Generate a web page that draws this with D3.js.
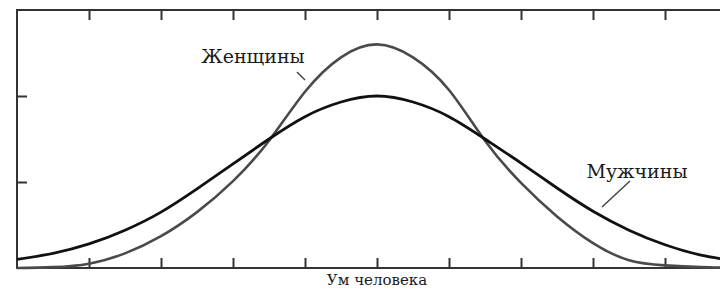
<!DOCTYPE html>
<html>
<head>
<meta charset="utf-8">
<title>Ум человека</title>
<script src="https://d3js.org/d3.v7.min.js"></script>
<style>
    body { margin: 0; background: #fff; }
    .frame { fill: none; stroke: #333; stroke-width: 2; }
    .tick line { stroke: #333; stroke-width: 2; }
    .label { font-family: "DejaVu Serif", "Liberation Serif", serif; fill: #1a1a1a; }
</style>
</head>
<body>
<div id="chart"></div>
<script>
    // x positions along the "intelligence" axis (arbitrary units)
    const xs = [0, 0.5, 1, 1.5, 2, 2.5, 3, 3.5, 4, 4.5, 5, 5.5, 6, 6.5, 7, 7.5, 8, 8.5, 9, 9.5, 10];
    const men   = [0.10, 0.17, 0.28, 0.44, 0.65, 0.92, 1.21, 1.50, 1.76, 1.93, 2.00, 1.93, 1.76, 1.50, 1.22, 0.93, 0.66, 0.44, 0.27, 0.15, 0.08];
    const women = [0.00, 0.01, 0.05, 0.17, 0.37, 0.65, 1.01, 1.48, 2.05, 2.45, 2.60, 2.45, 2.07, 1.48, 0.99, 0.60, 0.29, 0.09, 0.03, 0.01, 0.00];
    const xTicks = [1, 2, 3, 4, 5, 6, 7, 8, 9];
    const yTicks = [1, 2];
    const xTitle = "Ум человека";
    const labelWomen = "Женщины";
    const labelMen = "Мужчины";

    const W = 720, H = 290;
    const margin = { top: 10, right: -17, bottom: 22, left: 17 };

    const x = d3.scaleLinear().domain([0, 10]).range([margin.left, W - margin.right]);
    const y = d3.scaleLinear().domain([0, 3]).range([H - margin.bottom, margin.top]);

    const svg = d3.select("#chart").append("svg")
        .attr("width", W)
        .attr("height", H);

    // frame
    svg.append("rect")
        .attr("class", "frame")
        .attr("x", x(0))
        .attr("y", y(3))
        .attr("width", x(10) - x(0))
        .attr("height", y(0) - y(3));

    // inner ticks on all sides
    const tickLen = 10;
    svg.append("g")
        .attr("transform", "translate(0," + y(0) + ")")
        .call(d3.axisTop(x).tickValues(xTicks).tickSize(tickLen).tickFormat(""))
        .call(g => g.select(".domain").remove());
    svg.append("g")
        .attr("transform", "translate(0," + y(3) + ")")
        .call(d3.axisBottom(x).tickValues(xTicks).tickSize(tickLen).tickFormat(""))
        .call(g => g.select(".domain").remove());
    svg.append("g")
        .attr("transform", "translate(" + x(0) + ",0)")
        .call(d3.axisRight(y).tickValues(yTicks).tickSize(tickLen).tickFormat(""))
        .call(g => g.select(".domain").remove());

    const line = d3.line()
        .x((d, i) => x(xs[i]))
        .y(d => y(d))
        .curve(d3.curveNatural);

    svg.append("path")
        .datum(women)
        .attr("fill", "none")
        .attr("stroke", "#4a4a4a")
        .attr("stroke-width", 2.6)
        .attr("d", line);

    svg.append("path")
        .datum(men)
        .attr("fill", "none")
        .attr("stroke", "#111")
        .attr("stroke-width", 2.8)
        .attr("d", line);

    // labels with leader lines
    svg.append("text")
        .attr("class", "label")
        .attr("x", 253)
        .attr("y", 63)
        .attr("text-anchor", "middle")
        .attr("font-size", 19)
        .text(labelWomen);
    svg.append("line")
        .attr("x1", 297).attr("y1", 72)
        .attr("x2", 305).attr("y2", 80)
        .attr("stroke", "#444").attr("stroke-width", 1.5);

    svg.append("text")
        .attr("class", "label")
        .attr("x", 637)
        .attr("y", 178)
        .attr("text-anchor", "middle")
        .attr("font-size", 19)
        .text(labelMen);
    svg.append("line")
        .attr("x1", 630).attr("y1", 181)
        .attr("x2", 602).attr("y2", 207)
        .attr("stroke", "#444").attr("stroke-width", 1.5);

    svg.append("text")
        .attr("class", "label")
        .attr("x", x(5))
        .attr("y", 285)
        .attr("text-anchor", "middle")
        .attr("font-size", 15)
        .text(xTitle);
</script>
</body>
</html>
